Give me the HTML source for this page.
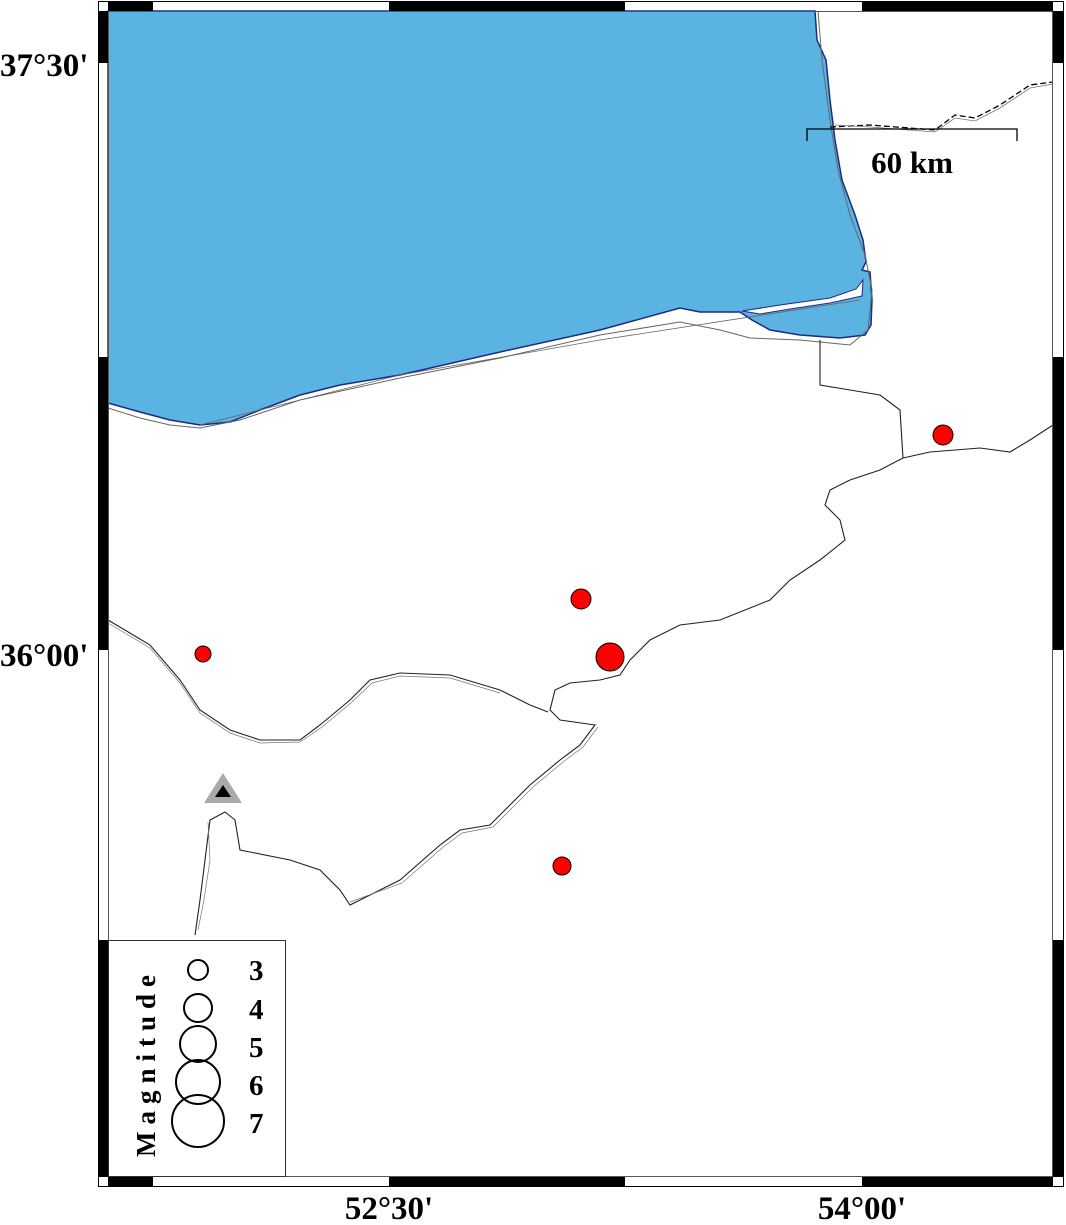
<!DOCTYPE html>
<html><head><meta charset="utf-8"><style>
html,body{margin:0;padding:0;background:#fff;}
svg{display:block;}
text{font-family:"Liberation Serif",serif;font-weight:bold;}
</style></head><body>
<svg width="1066" height="1225" viewBox="0 0 1066 1225" xmlns="http://www.w3.org/2000/svg">
<rect width="1066" height="1225" fill="#fff"/>
<!-- sea -->
<path d="M108,11 L815,11 L817,40 L826,60 L830,100 L835,140 L842,180 L855,215 L863,240 L866,262 L862,270 L870,272 L872,300 L871,325 L865,335 L840,338 L800,335 L770,330 L752,320 L740,312 L700,312 L680,308 L600,330 L500,352 L400,375 L340,385 L300,395 L260,410 L230,422 L200,425 L170,420 L140,412 L108,403 Z" fill="#5ab3e1" stroke="#1a2a8a" stroke-width="1.5"/>
<path d="M742,311 L780,305 L830,298 L856,289 L863,280 L862,296 L830,303 L790,309 L760,314 Z" fill="#fff" stroke="#1a2a8a" stroke-width="1"/>
<!-- gray coast -->
<path d="M108,408 L140,418 L170,425 L200,428 L240,420 L300,400 L400,378 L500,358 L600,335 L680,322 L720,330 L750,338 L800,340 L850,345 L868,330 L872,290 L865,255 L850,215 L838,170 L830,120 L822,60 L818,11" fill="none" stroke="#666" stroke-width="1"/>
<path d="M200,425 L400,375 L600,340 L860,300" fill="none" stroke="#666" stroke-width="0.8"/>
<!-- northern border dashed -->
<path d="M830,127 L870,125 L935,130 L955,115 L975,118 L1000,105 L1030,85 L1053,82" fill="none" stroke="#000" stroke-width="1.3" stroke-dasharray="6,3"/>
<path d="M835,125 L870,127 L935,132 L955,118 L975,121 L1000,108 L1030,88 L1053,84" fill="none" stroke="#777" stroke-width="0.8"/>
<!-- province boundaries -->
<g fill="none" stroke="#222" stroke-width="1.1">
<path d="M820,340 L820,385 L850,390 L880,395 L900,410 L903,458 L930,452 L980,448 L1010,452 L1030,440 L1053,425"/>
<path d="M903,458 L880,470 L850,480 L830,490 L825,505 L840,520 L845,540 L820,560 L790,580 L770,600 L720,620 L680,625 L650,640 L630,660 L620,675 L600,680 L570,683 L555,690 L550,710 L560,720 L595,725 L580,745 L560,760 L530,785 L490,825 L460,830 L440,845 L400,880 L350,905 L340,890 L320,870 L290,860 L240,850 L235,820 L225,812 L210,820 L205,860 L200,900 L195,935"/>
<path d="M108,620 L150,645 L180,680 L200,710 L230,730 L260,740 L300,740 L320,725 L350,700 L370,680 L400,673 L450,675 L500,690 L530,705 L548,712"/>
</g>
<g fill="none" stroke="#777" stroke-width="0.7">
<path d="M108,623 L150,648 L180,683 L200,713 L230,733 L260,743 L300,742 L322,727 L352,702 L372,683 L400,676 L450,678 L500,693"/>
<path d="M598,727 L583,747 L563,762 L533,787 L493,827 L462,833 L442,848 L402,883 L350,902 M208,822 L210,860 L204,900 L198,930"/>
</g>
<!-- frame -->
<rect x="98.5" y="1.5" width="965" height="1185" fill="none" stroke="#000" stroke-width="1"/>
<rect x="108.5" y="11.5" width="944" height="1165" fill="none" stroke="#555" stroke-width="1"/>
<g fill="#000">
<rect x="108" y="1" width="45" height="10"/><rect x="389" y="1" width="236" height="10"/><rect x="862" y="1" width="191" height="10"/>
<rect x="108" y="1177" width="45" height="10"/><rect x="389" y="1177" width="236" height="10"/><rect x="862" y="1177" width="191" height="10"/>
<rect x="98" y="11" width="10" height="52"/><rect x="98" y="357" width="10" height="293"/><rect x="98" y="940" width="10" height="237"/>
<rect x="1053" y="11" width="11" height="52"/><rect x="1053" y="357" width="11" height="293"/><rect x="1053" y="940" width="11" height="237"/>
</g>
<!-- scale bar -->
<path d="M807,141 L807,129 L1017,129 L1017,141" fill="none" stroke="#000" stroke-width="1.3"/>
<text x="912" y="173" font-size="31" text-anchor="middle">60 km</text>
<!-- station -->
<polygon points="223,773 242,803 204,803" fill="#aaa"/>
<polygon points="223,785 231,797 215,797" fill="#000"/>
<!-- events -->
<g fill="#f00" stroke="#000" stroke-width="1">
<circle cx="943" cy="435" r="10"/><circle cx="581" cy="599" r="10"/><circle cx="610" cy="657" r="14"/><circle cx="203" cy="654" r="8"/><circle cx="562" cy="866" r="9"/>
</g>
<!-- legend -->
<rect x="108.5" y="940.5" width="177" height="236" fill="#fff" stroke="#333" stroke-width="1"/>
<g fill="none" stroke="#000" stroke-width="2">
<circle cx="198" cy="970" r="10"/><circle cx="198" cy="1008" r="14"/><circle cx="198" cy="1044" r="18"/><circle cx="198" cy="1082" r="22"/><circle cx="198" cy="1121" r="26"/>
</g>
<g font-size="29">
<text x="249" y="980">3</text><text x="249" y="1019">4</text><text x="249" y="1057">5</text><text x="249" y="1095">6</text><text x="249" y="1133">7</text>
</g>
<text transform="translate(155,1157) rotate(-90)" font-size="27" letter-spacing="7">Magnitude</text>
<!-- axis labels -->
<g font-size="33">
<text x="0" y="76">37°30'</text>
<text x="0" y="666">36°00'</text>
<text x="389" y="1219" text-anchor="middle">52°30'</text>
<text x="862" y="1219" text-anchor="middle">54°00'</text>
</g>
</svg>
</body></html>
